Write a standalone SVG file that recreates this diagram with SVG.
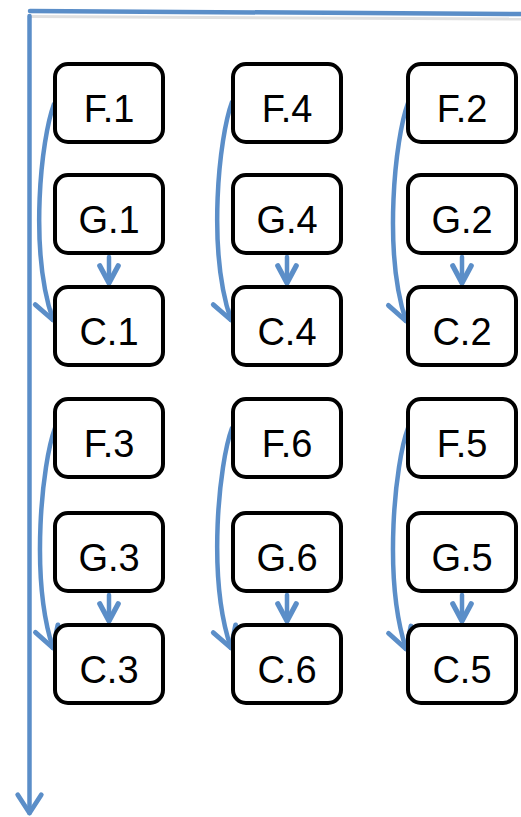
<svg xmlns="http://www.w3.org/2000/svg" width="521" height="817" viewBox="0 0 521 817">
<style>
.box{fill:#fff;stroke:#000;stroke-width:4}
.lbl{font-family:"Liberation Sans",Arial,sans-serif;font-size:38px;fill:#000;text-anchor:middle}
.ln{fill:none;stroke:#5b8ec8;stroke-width:4.5;stroke-linecap:round}
.cv{fill:none;stroke:#5b8ec8;stroke-width:4.5;stroke-linecap:round;marker-end:url(#arrC)}
.sh{fill:none;stroke:#e0e0e0;stroke-width:3}
</style>
<defs>
<marker id="arrC" markerUnits="userSpaceOnUse" orient="auto" markerWidth="30" markerHeight="30" refX="0" refY="0" viewBox="-22 -14 26 28" overflow="visible">
<path d="M -19,-11 L 0,0 L -19,11" fill="none" stroke="#5b8ec8" stroke-width="4.5" stroke-linecap="round" stroke-linejoin="round"/>
</marker>
<marker id="arrS" markerUnits="userSpaceOnUse" orient="auto" markerWidth="30" markerHeight="30" refX="0" refY="0" viewBox="-22 -12 26 24" overflow="visible">
<path d="M -15,-8 L 0,0 L -15,8" fill="none" stroke="#5b8ec8" stroke-width="4.5" stroke-linecap="round" stroke-linejoin="round"/>
</marker>
<marker id="arrM" markerUnits="userSpaceOnUse" orient="auto" markerWidth="30" markerHeight="30" refX="0" refY="0" viewBox="-22 -14 26 28" overflow="visible">
<path d="M -17,-11 L 0,0 L -17,11" fill="none" stroke="#5b8ec8" stroke-width="4.5" stroke-linecap="round" stroke-linejoin="round"/>
</marker>
</defs>

<g id="connectors">
<line class="sh" x1="31" y1="16.5" x2="521" y2="19"/>
<line class="ln" x1="30" y1="11" x2="521" y2="14"/>
<line class="ln" x1="29.5" y1="16" x2="29.5" y2="813" marker-end="url(#arrM)"/>

<path class="cv" d="M 54,104 C 41,139 29,250 53,320"/>
<path class="cv" d="M 232,102 C 219,137 207,250 231,320"/>
<path class="cv" d="M 408,103 C 395,138 383,252 406,321"/>
<path class="cv" d="M 55,428 C 42,463 30,578 53,648"/>
<path class="cv" d="M 232,428 C 219,463 207,578 231,648"/>
<path class="cv" d="M 408,428 C 395,463 383,578 406,649"/>

<line class="ln" x1="109" y1="257" x2="109" y2="283" marker-end="url(#arrS)"/>
<line class="ln" x1="287" y1="257" x2="287" y2="283" marker-end="url(#arrS)"/>
<line class="ln" x1="462" y1="257" x2="462" y2="283" marker-end="url(#arrS)"/>
<line class="ln" x1="109" y1="595" x2="109" y2="621" marker-end="url(#arrS)"/>
<line class="ln" x1="287" y1="595" x2="287" y2="621" marker-end="url(#arrS)"/>
<line class="ln" x1="462" y1="595" x2="462" y2="621" marker-end="url(#arrS)"/>
</g>

<g id="F1"><rect class="box" x="55" y="64" width="108" height="78" rx="13"/><text class="lbl" x="109" y="122">F.1</text></g>
<g id="G1"><rect class="box" x="55" y="175" width="108" height="78" rx="13"/><text class="lbl" x="109" y="233">G.1</text></g>
<g id="C1"><rect class="box" x="55" y="287" width="108" height="78" rx="13"/><text class="lbl" x="109" y="345">C.1</text></g>

<g id="F4"><rect class="box" x="233" y="64" width="108" height="78" rx="13"/><text class="lbl" x="287" y="122">F.4</text></g>
<g id="G4"><rect class="box" x="233" y="175" width="108" height="78" rx="13"/><text class="lbl" x="287" y="233">G.4</text></g>
<g id="C4"><rect class="box" x="233" y="287" width="108" height="78" rx="13"/><text class="lbl" x="287" y="345">C.4</text></g>

<g id="F2"><rect class="box" x="408" y="64" width="108" height="78" rx="13"/><text class="lbl" x="462" y="122">F.2</text></g>
<g id="G2"><rect class="box" x="408" y="175" width="108" height="78" rx="13"/><text class="lbl" x="462" y="233">G.2</text></g>
<g id="C2"><rect class="box" x="408" y="287" width="108" height="78" rx="13"/><text class="lbl" x="462" y="345">C.2</text></g>

<g id="F3"><rect class="box" x="55" y="399" width="108" height="78" rx="13"/><text class="lbl" x="109" y="457">F.3</text></g>
<g id="G3"><rect class="box" x="55" y="513" width="108" height="78" rx="13"/><text class="lbl" x="109" y="571">G.3</text></g>
<g id="C3"><rect class="box" x="55" y="625" width="108" height="78" rx="13"/><text class="lbl" x="109" y="683">C.3</text></g>

<g id="F6"><rect class="box" x="233" y="399" width="108" height="78" rx="13"/><text class="lbl" x="287" y="457">F.6</text></g>
<g id="G6"><rect class="box" x="233" y="513" width="108" height="78" rx="13"/><text class="lbl" x="287" y="571">G.6</text></g>
<g id="C6"><rect class="box" x="233" y="625" width="108" height="78" rx="13"/><text class="lbl" x="287" y="683">C.6</text></g>

<g id="F5"><rect class="box" x="408" y="399" width="108" height="78" rx="13"/><text class="lbl" x="462" y="457">F.5</text></g>
<g id="G5"><rect class="box" x="408" y="513" width="108" height="78" rx="13"/><text class="lbl" x="462" y="571">G.5</text></g>
<g id="C5"><rect class="box" x="408" y="625" width="108" height="78" rx="13"/><text class="lbl" x="462" y="683">C.5</text></g>
</svg>
